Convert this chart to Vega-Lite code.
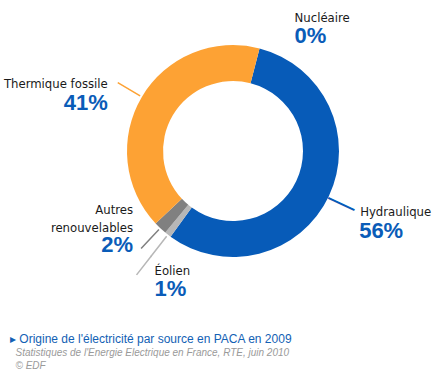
{
  "$schema": "https://vega.github.io/schema/vega-lite/v6.json",
  "width": 412,
  "height": 302,
  "autosize": {"type": "none"},
  "padding": {"left": 27, "top": 0, "right": 0, "bottom": 81},
  "background": "white",
  "view": {"stroke": null},
  "title": {
    "text": "▸ Origine de l'électricité par source en PACA en 2009",
    "subtitle": ["\u200b\u00a0\u00a0Statistiques de l'Energie Electrique en France, RTE, juin 2010", "\u200b\u00a0\u00a0© EDF"],
    "orient": "bottom",
    "anchor": "start",
    "frame": "group",
    "dx": -17,
    "offset": 32,
    "font": "Liberation Sans",
    "fontSize": 12,
    "fontWeight": "normal",
    "color": "#1261b4",
    "subtitleFont": "Liberation Sans",
    "subtitleFontSize": 10,
    "subtitleFontStyle": "italic",
    "subtitleColor": "#9a9a9a",
    "subtitlePadding": 2,
    "subtitleLineHeight": 13
  },
  "data": {
    "values": [
      {"source": "Nucléaire", "share": 0, "rank": 0},
      {"source": "Hydraulique", "share": 0.56, "rank": 1},
      {"source": "Éolien", "share": 0.01, "rank": 2},
      {"source": "Autres renouvelables", "share": 0.02, "rank": 3},
      {"source": "Thermique fossile", "share": 0.41, "rank": 4}
    ]
  },
  "encoding": {
    "theta": {"field": "share", "type": "quantitative", "stack": true, "scale": {"type": "linear", "domain": [0, 1], "range": [0.2531, 6.5363]}},
    "order": {"field": "rank", "type": "quantitative"}
  },
  "layer": [
    {
      "mark": {"type": "arc", "innerRadius": 70, "outerRadius": 106},
      "encoding": {
        "color": {"field": "source", "type": "nominal", "legend": null,
          "scale": {"domain": ["Nucléaire", "Hydraulique", "Éolien", "Autres renouvelables", "Thermique fossile"],
                    "range": ["#e8c000", "#075bb8", "#b7b7b7", "#808080", "#fda234"]}}
      }
    },
    {
      "transform": [{"filter": "datum.share > 0"}],
      "mark": {"type": "arc", "innerRadius": 108, "outerRadius": 134, "padAngle": 3, "filled": false, "strokeWidth": 1.5},
      "encoding": {
        "color": {"field": "source", "type": "nominal", "legend": null},
        "strokeOpacity": {"condition": {"test": "datum.source === 'Hydraulique'", "value": 0}, "value": 1}
      }
    },
    {
      "mark": {"type": "arc", "innerRadius": 133, "outerRadius": 157, "padAngle": 3, "filled": false, "strokeWidth": 1.5},
      "encoding": {
        "color": {"field": "source", "type": "nominal", "legend": null},
        "strokeOpacity": {"condition": {"test": "datum.source === 'Éolien'", "value": 1}, "value": 0}
      }
    },
    {
      "mark": {"type": "text", "radius": 120.5, "angle": 25.3, "align": "center", "baseline": "middle", "font": "Liberation Sans", "fontSize": 29, "color": "#075bb8"},
      "encoding": {"detail": {"field": "source"}, "text": {"condition": {"test": "datum.source === 'Hydraulique'", "value": "—"}, "value": ""}}
    },
    {
      "mark": {"type": "text", "radius": 134, "align": "right", "baseline": "alphabetic", "dx": -10, "dy": 5, "font": "DejaVu Sans Condensed", "fontSize": 13, "color": "#1a1a1a"},
      "encoding": {"detail": {"field": "source"}, "text": {"condition": {"test": "datum.source === 'Thermique fossile'", "field": "source"}, "value": ""}}
    },
    {
      "mark": {"type": "text", "radius": 134, "align": "right", "baseline": "alphabetic", "dx": -10, "dy": 27, "font": "Liberation Sans, sans-serif", "fontSize": 22, "fontWeight": "bold", "color": "#0a5cb8"},
      "encoding": {"detail": {"field": "source"}, "text": {"condition": {"test": "datum.source === 'Thermique fossile'", "field": "share", "format": ".0%"}, "value": ""}}
    },
    {
      "mark": {"type": "text", "radius": 134, "align": "left", "baseline": "alphabetic", "dx": 6, "dy": 8, "font": "DejaVu Sans Condensed", "fontSize": 13, "color": "#1a1a1a"},
      "encoding": {"detail": {"field": "source"}, "text": {"condition": {"test": "datum.source === 'Hydraulique'", "field": "source"}, "value": ""}}
    },
    {
      "mark": {"type": "text", "radius": 134, "align": "left", "baseline": "alphabetic", "dx": 5, "dy": 30, "font": "Liberation Sans, sans-serif", "fontSize": 22, "fontWeight": "bold", "color": "#0a5cb8"},
      "encoding": {"detail": {"field": "source"}, "text": {"condition": {"test": "datum.source === 'Hydraulique'", "field": "share", "format": ".0%"}, "value": ""}}
    },
    {
      "mark": {"type": "text", "radius": 134, "align": "right", "baseline": "alphabetic", "dx": -8, "dy": -35, "lineBreak": " ", "lineHeight": 18, "font": "DejaVu Sans Condensed", "fontSize": 13, "color": "#1a1a1a"},
      "encoding": {"detail": {"field": "source"}, "text": {"condition": {"test": "datum.source === 'Autres renouvelables'", "field": "source"}, "value": ""}}
    },
    {
      "mark": {"type": "text", "radius": 134, "align": "right", "baseline": "alphabetic", "dx": -8, "dy": 3, "font": "Liberation Sans, sans-serif", "fontSize": 22, "fontWeight": "bold", "color": "#0a5cb8"},
      "encoding": {"detail": {"field": "source"}, "text": {"condition": {"test": "datum.source === 'Autres renouvelables'", "field": "share", "format": ".0%"}, "value": ""}}
    },
    {
      "mark": {"type": "text", "radius": 157, "align": "left", "baseline": "alphabetic", "dx": 18, "dy": 0, "font": "DejaVu Sans Condensed", "fontSize": 13, "color": "#1a1a1a"},
      "encoding": {"detail": {"field": "source"}, "text": {"condition": {"test": "datum.source === 'Éolien'", "field": "source"}, "value": ""}}
    },
    {
      "mark": {"type": "text", "radius": 157, "align": "left", "baseline": "alphabetic", "dx": 18, "dy": 21, "font": "Liberation Sans, sans-serif", "fontSize": 22, "fontWeight": "bold", "color": "#0a5cb8"},
      "encoding": {"detail": {"field": "source"}, "text": {"condition": {"test": "datum.source === 'Éolien'", "field": "share", "format": ".0%"}, "value": ""}}
    },
    {
      "mark": {"type": "text", "radius": 134, "align": "left", "baseline": "alphabetic", "dx": 28, "dy": 1, "font": "DejaVu Sans Condensed", "fontSize": 13, "color": "#1a1a1a"},
      "encoding": {"detail": {"field": "source"}, "text": {"condition": {"test": "datum.source === 'Nucléaire'", "field": "source"}, "value": ""}}
    },
    {
      "mark": {"type": "text", "radius": 134, "align": "left", "baseline": "alphabetic", "dx": 28, "dy": 22, "font": "Liberation Sans, sans-serif", "fontSize": 22, "fontWeight": "bold", "color": "#0a5cb8"},
      "encoding": {"detail": {"field": "source"}, "text": {"condition": {"test": "datum.source === 'Nucléaire'", "field": "share", "format": ".0%"}, "value": ""}}
    }
  ]
}
